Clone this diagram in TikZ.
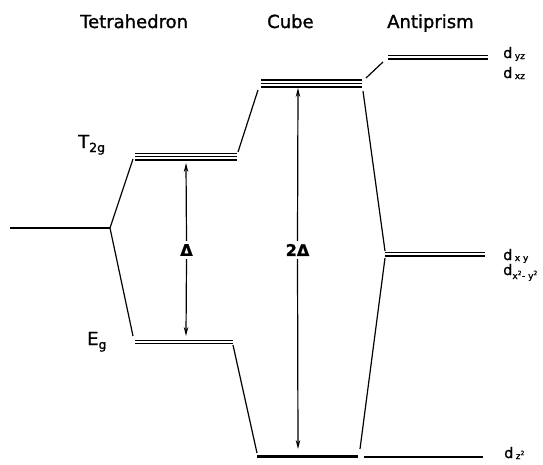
\documentclass[tikz,border=0pt]{standalone}
\usepackage{fontspec}
\setmainfont[FakeBold=1.2]{DejaVu Sans}
\usetikzlibrary{arrows.meta}
\newcommand{\sbx}[2][0pt]{\raisebox{#1}{\fontsize{9}{9}\selectfont #2}}
\begin{document}
\begin{tikzpicture}[x=1pt,y=-1pt,
  lvl/.style={line width=1.5pt, black},
  thick lvl/.style={line width=3.8pt, black},
  con/.style={line width=1.2pt, black},
  arr/.style={line width=1.2pt, -{Stealth[length=9pt,width=4.5pt]}},
  title/.style={anchor=base west, inner sep=0pt, font=\fontsize{18}{18}\selectfont},
  lab/.style={anchor=base west, inner sep=0pt, font=\fontsize{14.5}{14.5}\selectfont},
  big/.style={anchor=base west, inner sep=0pt, font=\fontsize{18}{18}\selectfont},
  sym/.style={inner sep=3pt, font=\bfseries\fontsize{16}{16}\selectfont},
]
\useasboundingbox[fill=white] (0,0) rectangle (543,464);

% titles
\node[title] (ttet) at (80,28) {Tetrahedron};
\node[title] (tcube) at (267,28) {Cube};
\node[title] (tanti) at (387,28) {Antiprism};

% free ion level
\coordinate (f0) at (10,228);
\coordinate (f1) at (110,228);
\draw[lvl] (f0) -- (f1);

% tetrahedron levels
\foreach \y in {153.3,156.7,160} \draw[lvl] (135,\y) -- (237,\y);
\foreach \y in {340.3,343.6} \draw[lvl] (135,\y) -- (233,\y);

% cube levels
\foreach \y in {80,83.5,87} \draw[lvl] (261,\y) -- (362,\y);
\draw[thick lvl] (257,456.5) -- (358,456.5);

% antiprism levels
\foreach \y in {55.5,59} \draw[lvl] (388,\y) -- (488,\y);
\foreach \y in {252.5,256} \draw[lvl] (385,\y) -- (485,\y);
\draw[line width=1.7pt] (364,457) -- (483,457);

% connector end points
\coordinate (t2gL) at (133,159);
\coordinate (egL) at (133,336);
\coordinate (t2gR) at (238,152);
\coordinate (egR) at (233,345);
\coordinate (cubTL) at (258,90);
\coordinate (cubBL) at (257,453);
\coordinate (cubTR) at (363,91);
\coordinate (cubTR2) at (366,78);
\coordinate (cubBR) at (360,449);
\coordinate (antTL) at (383,62);
\coordinate (antML) at (385,251);
\coordinate (antML2) at (385,258);

\draw[con] (f1) -- (t2gL);
\draw[con] (f1) -- (egL);
\draw[con] (t2gR) -- (cubTL);
\draw[con] (egR) -- (cubBL);
\draw[con] (cubTR2) -- (antTL);
\draw[con] (cubTR) -- (antML);
\draw[con] (antML2) -- (cubBR);

% splitting arrows
\coordinate (dTop) at (186,163);
\coordinate (dBot) at (186,336);
\coordinate (ddTop) at (298,88);
\coordinate (ddBot) at (298,449);
\node[sym] (dl) at (186.5,250) {Δ};
\node[sym] (ddl) at (297.5,250) {2Δ};
\draw[arr] (dl.north) -- (dTop);
\draw[arr] (dl.south) -- (dBot);
\draw[arr] (ddl.north) -- (ddTop);
\draw[arr] (ddl.south) -- (ddBot);

% labels
\node[big] (lt2g) at (78,148) {T\raisebox{-4pt}{\fontsize{12.5}{12.5}\selectfont 2g}};
\node[big] (leg) at (87,345) {E\raisebox{-4pt}{\fontsize{12.5}{12.5}\selectfont g}};
\node[lab] (dyz) at (503,58) {d\,\sbx[-1pt]{yz}};
\node[lab] (dxz) at (503,78) {d\,\sbx[-1pt]{xz}};
\node[lab] (dxy) at (503,260) {d\,\sbx[-1pt]{x y}};
\node[lab] (dx2y2) at (503,275) {d\sbx[-4pt]{x\textsuperscript{2}- y\textsuperscript{2}}};
\node[lab] (dz2) at (504,458) {d\,\sbx[-1pt]{z\textsuperscript{2}}};
\end{tikzpicture}
\end{document}
